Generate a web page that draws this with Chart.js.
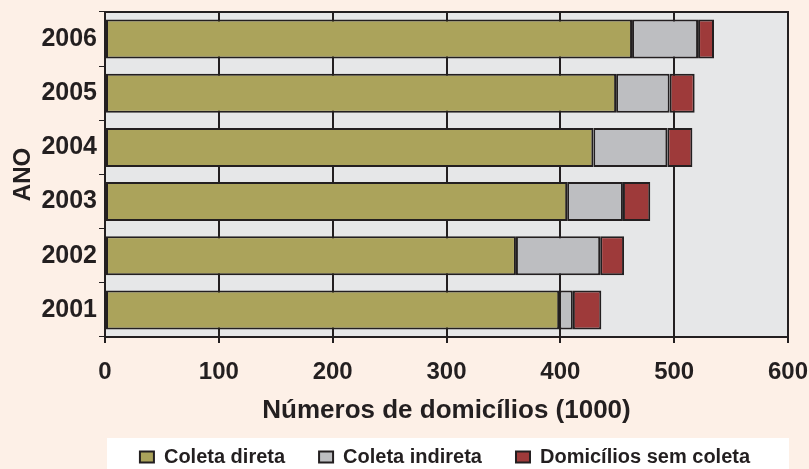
<!DOCTYPE html>
<html>
<head>
<meta charset="utf-8">
<script src="https://cdn.jsdelivr.net/npm/chart.js@4"></script>
<style>
  html, body { margin: 0; padding: 0; background: #fdf0e7; }
  #wrap { width: 809px; height: 469px; position: relative; }
</style>
</head>
<body>
<div id="wrap"><canvas id="c" width="809" height="469"></canvas></div>
<script>
const categories = ['2006', '2005', '2004', '2003', '2002', '2001'];
const coletaDireta = [463, 449, 429, 406, 361, 399];
const coletaIndireta = [58, 47, 65, 49, 74, 12];
const semColeta = [14, 22, 22, 24, 21, 25];
const xTicks = [0, 100, 200, 300, 400, 500, 600];
const seriesNames = ['Coleta direta', 'Coleta indireta', 'Domicílios sem coleta'];

const INK = '#231f20';
const FONT = '"Liberation Sans", Arial, sans-serif';

const bgPlugin = {
  id: 'bgPlugin',
  afterLayout(chart) {
    const lg = chart.legend, a = chart.chartArea;
    if (lg) {
      lg.left = a.left - 24;
      lg.right = chart.width;
      lg.width = lg.right - lg.left;
    }
  },
  beforeDraw(chart) {
    const { ctx, chartArea: a, legend } = chart;
    ctx.save();
    ctx.fillStyle = '#fdf0e7';
    ctx.fillRect(0, 0, chart.width, chart.height);
    ctx.fillStyle = '#e6e7e8';
    ctx.fillRect(a.left, a.top, a.right - a.left, a.bottom - a.top);
    if (legend) {
      ctx.fillStyle = '#ffffff';
      ctx.fillRect(a.left + 2, legend.top + 25, a.right - a.left - 1, chart.height - legend.top - 25);
    }
    ctx.restore();
  },
  beforeDatasetsDraw(chart) {
    const { ctx, chartArea: a } = chart;
    ctx.save();
    ctx.strokeStyle = INK;
    ctx.lineWidth = 2;
    ctx.strokeRect(a.left, a.top, a.right - a.left, a.bottom - a.top);
    ctx.restore();
  }
};

new Chart(document.getElementById('c'), {
  type: 'bar',
  data: {
    labels: categories,
    datasets: [
      { label: seriesNames[0], data: coletaDireta, backgroundColor: '#aba35b' },
      { label: seriesNames[1], data: coletaIndireta, backgroundColor: '#bdbec1' },
      { label: seriesNames[2], data: semColeta, backgroundColor: '#9e3a3a' }
    ].map(d => Object.assign(d, {
      borderColor: INK, borderWidth: 2, borderSkipped: false,
      barPercentage: 0.72, categoryPercentage: 1.0
    }))
  },
  options: {
    indexAxis: 'y',
    responsive: false,
    animation: false,
    devicePixelRatio: 1,
    layout: { padding: { top: 12, right: 21, left: 0, bottom: 0 } },
    plugins: {
      tooltip: { enabled: false },
      legend: {
        position: 'bottom',
        maxHeight: 56,
        labels: {
          color: INK,
          font: { family: FONT, size: 20, weight: 'bold' },
          boxWidth: 14, boxHeight: 11,
          padding: 34
        }
      }
    },
    scales: {
      x: {
        stacked: true,
        min: 0, max: 600,
        afterBuildTicks(scale) { scale.ticks = xTicks.map(v => ({ value: v })); },
        afterFit(scale) { scale.height = 76; scale.paddingLeft = 0; scale.paddingRight = 0; },
        grid: { color: INK, lineWidth: 2, drawTicks: true, tickLength: 6, tickColor: INK },
        border: { color: INK, width: 2 },
        ticks: {
          color: INK, padding: 15,
          font: { family: FONT, size: 24, weight: 'bold' },
          maxRotation: 0
        },
        title: {
          display: true, text: 'Números de domicílios (1000)', color: INK,
          font: { family: FONT, size: 26, weight: 'bold' },
          padding: { top: 0, bottom: -13 }
        }
      },
      y: {
        stacked: true,
        afterFit(scale) { scale.width = 105; scale.paddingTop = 0; scale.paddingBottom = 0; },
        grid: { offset: true, drawOnChartArea: false, drawTicks: true, tickLength: 6, tickColor: INK, lineWidth: 1 },
        border: { color: INK, width: 2 },
        ticks: {
          color: INK, padding: 2,
          font: { family: FONT, size: 25, weight: 'bold' }
        },
        title: {
          display: true, text: 'ANO', color: INK,
          font: { family: FONT, size: 24, weight: 'bold' },
          padding: { top: 9, bottom: 0 }
        }
      }
    }
  },
  plugins: [bgPlugin]
});
</script>
</body>
</html>
